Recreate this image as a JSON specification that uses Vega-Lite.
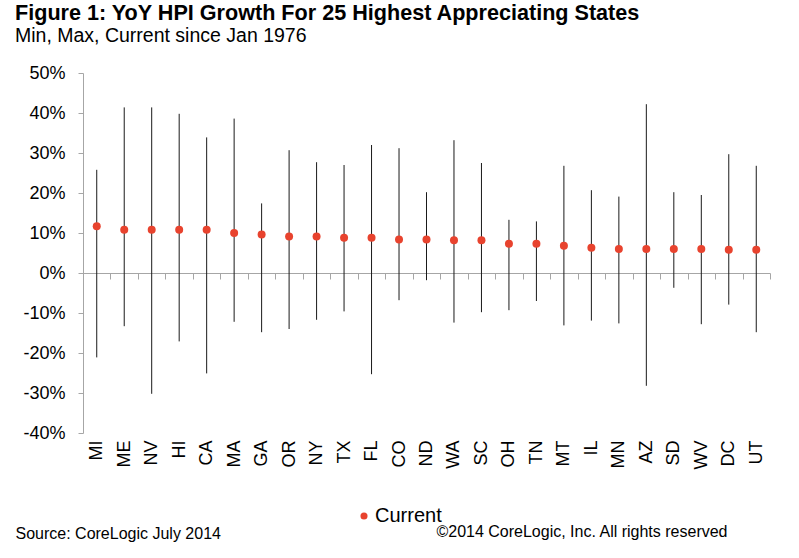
{
  "$schema": "https://vega.github.io/schema/vega-lite/v6.json",
  "width": 687,
  "height": 360,
  "autosize": {"type": "none"},
  "padding": {"left": 83, "top": 73, "right": 29, "bottom": 125},
  "background": "white",
  "title": {
    "text": "Figure 1: YoY HPI Growth For 25 Highest Appreciating States",
    "subtitle": "Min, Max, Current since Jan 1976",
    "anchor": "start",
    "frame": "group",
    "dx": -68,
    "offset": 19,
    "font": "Liberation Sans",
    "fontSize": 21.6,
    "fontWeight": "bold",
    "color": "black",
    "subtitleFont": "Liberation Sans",
    "subtitleFontSize": 19.5,
    "subtitleColor": "black",
    "subtitlePadding": 2
  },
  "data": {
    "values": [
      {"state": "MI", "min": -21.1, "max": 25.8, "current": 11.7},
      {"state": "ME", "min": -13.3, "max": 41.4, "current": 10.8},
      {"state": "NV", "min": -30.2, "max": 41.4, "current": 10.8},
      {"state": "HI", "min": -17.1, "max": 39.8, "current": 10.8},
      {"state": "CA", "min": -25.1, "max": 33.9, "current": 10.8},
      {"state": "MA", "min": -12.2, "max": 38.6, "current": 10.0},
      {"state": "GA", "min": -14.8, "max": 17.4, "current": 9.6},
      {"state": "OR", "min": -14.0, "max": 30.7, "current": 9.1},
      {"state": "NY", "min": -11.7, "max": 27.7, "current": 9.1},
      {"state": "TX", "min": -9.6, "max": 27.0, "current": 8.8},
      {"state": "FL", "min": -25.3, "max": 32.0, "current": 8.8},
      {"state": "CO", "min": -6.8, "max": 31.2, "current": 8.4},
      {"state": "ND", "min": -1.8, "max": 20.2, "current": 8.4},
      {"state": "WA", "min": -12.4, "max": 33.2, "current": 8.2},
      {"state": "SC", "min": -9.8, "max": 27.5, "current": 8.2},
      {"state": "OH", "min": -9.3, "max": 13.3, "current": 7.3},
      {"state": "TN", "min": -7.0, "max": 12.9, "current": 7.3},
      {"state": "MT", "min": -13.1, "max": 26.8, "current": 6.8},
      {"state": "IL", "min": -11.9, "max": 20.7, "current": 6.3},
      {"state": "MN", "min": -12.6, "max": 19.1, "current": 6.0},
      {"state": "AZ", "min": -28.2, "max": 42.2, "current": 6.0},
      {"state": "SD", "min": -3.7, "max": 20.2, "current": 6.0},
      {"state": "WV", "min": -12.8, "max": 19.5, "current": 6.0},
      {"state": "DC", "min": -7.9, "max": 29.7, "current": 5.8},
      {"state": "UT", "min": -14.8, "max": 26.8, "current": 5.8}
    ]
  },
  "encoding": {
    "x": {
      "field": "state",
      "type": "nominal",
      "sort": null,
      "scale": {"paddingInner": 0, "paddingOuter": 0},
      "axis": {
        "orient": "bottom",
        "offset": -160,
        "domainColor": "#a6a6a6",
        "tickColor": "#a6a6a6",
        "tickBand": "extent",
        "tickSize": 6,
        "labelAngle": -90,
        "labelPadding": 161,
        "labelOverlap": false,
        "labelFont": "Liberation Sans",
        "labelFontSize": 18,
        "labelColor": "black",
        "title": "Source: CoreLogic July 2014",
        "titleFont": "Liberation Sans",
        "titleFontSize": 16,
        "titleFontWeight": "normal",
        "titleColor": "black",
        "titleAlign": "left",
        "titleBaseline": "alphabetic",
        "titleX": -68,
        "titleY": 265
      }
    }
  },
  "layer": [
    {
      "mark": {"type": "rule", "color": "#1a1a1a", "strokeWidth": 1},
      "encoding": {
        "y": {
          "field": "min",
          "type": "quantitative",
          "scale": {"domain": [-40, 50], "nice": false},
          "axis": {
            "values": [-40, -30, -20, -10, 0, 10, 20, 30, 40, 50],
            "tickCount": 10,
            "labelExpr": "datum.value + '%'",
            "labelOverlap": false,
            "labelFlush": false,
            "grid": false,
            "domainColor": "#a6a6a6",
            "tickColor": "#a6a6a6",
            "tickSize": 5,
            "labelPadding": 13,
            "labelFont": "Liberation Sans",
            "labelFontSize": 18,
            "labelColor": "black",
            "title": "©2014 CoreLogic, Inc. All rights reserved",
            "titleFont": "Liberation Sans",
            "titleFontSize": 16,
            "titleFontWeight": "normal",
            "titleColor": "black",
            "titleAngle": 0,
            "titleAlign": "right",
            "titleBaseline": "alphabetic",
            "titleX": 644,
            "titleY": 463
          }
        },
        "y2": {"field": "max"}
      }
    },
    {
      "mark": {"type": "point", "filled": true, "opacity": 1, "size": 64},
      "encoding": {
        "y": {
          "field": "current",
          "type": "quantitative",
          "axis": {
            "values": [-40, -30, -20, -10, 0, 10, 20, 30, 40, 50],
            "tickCount": 10,
            "labelExpr": "datum.value + '%'",
            "labelOverlap": false,
            "labelFlush": false,
            "grid": false,
            "domainColor": "#a6a6a6",
            "tickColor": "#a6a6a6",
            "tickSize": 5,
            "labelPadding": 13,
            "labelFont": "Liberation Sans",
            "labelFontSize": 18,
            "labelColor": "black",
            "title": "©2014 CoreLogic, Inc. All rights reserved",
            "titleFont": "Liberation Sans",
            "titleFontSize": 16,
            "titleFontWeight": "normal",
            "titleColor": "black",
            "titleAngle": 0,
            "titleAlign": "right",
            "titleBaseline": "alphabetic",
            "titleX": 644,
            "titleY": 463
          }
        },
        "color": {
          "datum": "Current",
          "type": "nominal",
          "scale": {"range": ["#e8432e"]},
          "legend": {
            "title": null,
            "orient": "none",
            "legendX": 271,
            "legendY": 433,
            "padding": 0,
            "symbolType": "circle",
            "symbolSize": 50,
            "symbolOpacity": 1,
            "labelFont": "Liberation Sans",
            "labelFontSize": 20,
            "labelColor": "black",
            "labelOffset": 1
          }
        }
      }
    }
  ],
  "config": {"view": {"stroke": null}}
}
